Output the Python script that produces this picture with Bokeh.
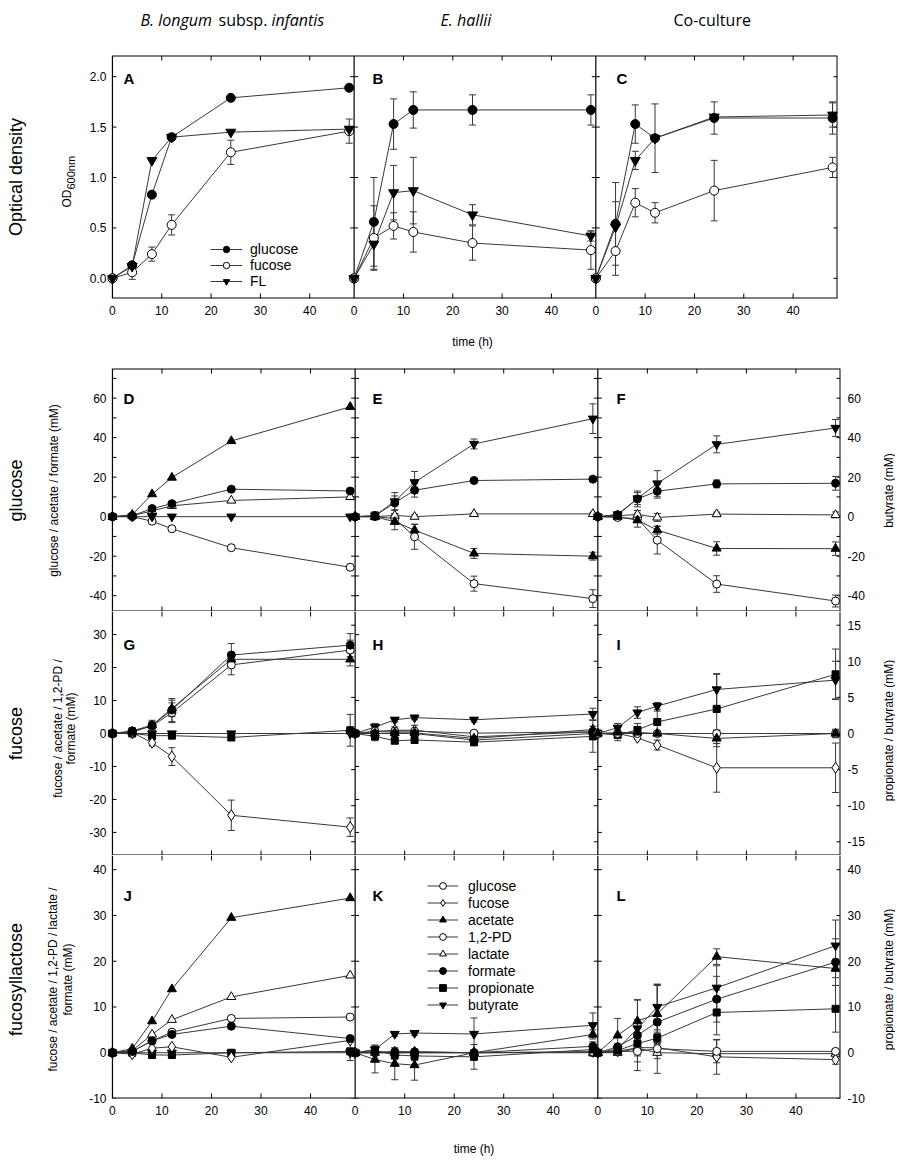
import math
from bokeh.plotting import figure
from bokeh.models import (Range1d, LinearAxis, FixedTicker, Label, Legend, LegendItem,
                          CustomJSTickFormatter)
from bokeh.layouts import column, row
from bokeh.embed import file_html
from bokeh.resources import INLINE

# ------------------------------------------------------------------ data
TIME_H = [0, 4, 8, 12, 24, 48]
PANEL_H = 49
X_TICK_LABELS = [0, 10, 20, 30, 40]
NO_SD = [0, 0, 0, 0, 0, 0]

OD_TICKS = [0.0, 0.5, 1.0, 1.5, 2.0]
GLC_TICK_LABELS = [-40, -20, 0, 20, 40, 60]
GLC_TICK_MARKS = [-40, -30, -20, -10, 0, 10, 20, 30, 40, 50, 60, 70]
FUC_TICKS_LEFT = [-30, -20, -10, 0, 10, 20, 30]
FUC_TICKS_RIGHT = [-15, -10, -5, 0, 5, 10, 15]
FL_TICKS = [-10, 0, 10, 20, 30, 40]

# Optical density (OD600)
A_glucose = [0.00, 0.13, 0.83, 1.40, 1.79, 1.89]
A_fucose = [0.00, 0.06, 0.24, 0.53, 1.25, 1.46]
A_fucose_sd = [0, 0.07, 0.07, 0.10, 0.12, 0.12]
A_FL = [0.00, 0.12, 1.17, 1.40, 1.45, 1.48]
B_glucose = [0.00, 0.56, 1.53, 1.67, 1.67, 1.67]
B_glucose_sd = [0, 0.44, 0.25, 0.18, 0.15, 0.15]
B_fucose = [0.00, 0.40, 0.52, 0.46, 0.35, 0.28]
B_fucose_sd = [0, 0.32, 0.13, 0.20, 0.17, 0.19]
B_FL = [0.00, 0.34, 0.85, 0.87, 0.63, 0.42]
B_FL_sd = [0, 0.25, 0.27, 0.33, 0.10, 0.05]
C_glucose = [0.00, 0.54, 1.53, 1.39, 1.59, 1.59]
C_glucose_sd = [0, 0.41, 0.19, 0.34, 0.16, 0.16]
C_fucose = [0.00, 0.27, 0.75, 0.65, 0.87, 1.10]
C_fucose_sd = [0, 0.24, 0.14, 0.10, 0.30, 0.10]
C_FL = [0.00, 0.51, 1.17, 1.39, 1.60, 1.62]
C_FL_sd = [0, 0.25, 0.09, 0, 0, 0.12]

# glucose medium (mM)
D_glucose = [0, 0, -2.3, -6.1, -15.7, -25.6]
D_acetate = [0, 1.0, 11.4, 19.8, 38.3, 55.6]
D_lactate = [0, 0.5, 2.9, 5.5, 8.2, 10.0]
D_formate = [0, 0.5, 4.1, 6.6, 13.9, 13.0]
D_butyrate = [0, 0, 0, 0, 0, 0]
E_glucose = [0, 0, -1.0, -10.2, -33.9, -41.5]
E_glucose_sd = [0, 1.5, 2.0, 6.3, 3.8, 4.5]
E_acetate = [0, 0, -2.6, -6.8, -18.6, -20.0]
E_acetate_sd = [0, 1.0, 4.0, 3.0, 2.5, 2.0]
E_lactate = [0, 0, 0.6, 0.0, 1.4, 1.4]
E_lactate_sd = [0, 0.5, 1.0, 1.0, 0.5, 0.8]
E_formate = [0, 0.5, 7.0, 13.4, 18.3, 19.0]
E_formate_sd = [0, 1.5, 3.5, 3.5, 0.5, 0.5]
E_butyrate = [0, 0.5, 7.7, 17.4, 36.8, 49.6]
E_butyrate_sd = [0, 2.0, 4.5, 5.5, 2.5, 7.5]
F_glucose = [0, -0.4, -1.0, -11.9, -34.1, -42.7]
F_glucose_sd = [0, 0.5, 1.0, 7.0, 4.2, 3.0]
F_acetate = [0, 0, -1.8, -6.8, -16.1, -16.2]
F_acetate_sd = [0, 0.5, 3.5, 2.0, 3.4, 3.4]
F_lactate = [0, 0.5, 1.1, -0.4, 1.3, 0.9]
F_lactate_sd = [0, 0.5, 2.0, 2.0, 1.0, 1.5]
F_formate = [0, 1.0, 9.0, 12.9, 16.6, 16.9]
F_formate_sd = [0, 1.0, 4.0, 3.5, 2.0, 3.5]
F_butyrate = [0, 1.1, 9.2, 16.8, 36.6, 44.9]
F_butyrate_sd = [0, 1.0, 3.0, 6.5, 4.3, 4.3]

# fucose medium (mM); propionate / butyrate on right axis
G_fucose = [0, 0.3, -2.8, -7.0, -24.8, -28.4]
G_fucose_sd = [0, 0.5, 1.0, 2.7, 4.6, 2.8]
G_acetate = [0, 0.5, 2.5, 7.6, 22.5, 22.5]
G_acetate_sd = [0, 1.0, 1.0, 2.5, 2.0, 2.0]
G_pd = [0, 0.5, 2.3, 6.3, 20.8, 25.3]
G_pd_sd = [0, 1.0, 1.0, 3.0, 3.0, 3.0]
G_formate = [0, 0.8, 2.5, 7.1, 23.8, 26.8]
G_formate_sd = [0, 1.0, 1.5, 3.5, 3.5, 3.5]
G_propionate = [0, 0, -0.3, -0.3, -0.55, 0.45]
G_propionate_sd = [0, 0, 0.3, 0.3, 0.4, 2.2]
G_butyrate = [0, 0, 0, 0, 0, 0]
H_fucose = [0, 0.5, 1.0, 1.0, -1.0, 0.5]
H_fucose_sd = [0, 0.5, 1.0, 1.5, 1.0, 1.0]
H_acetate = [0, 0, 0.2, 0.2, -1.5, 1.2]
H_acetate_sd = [0, 0.5, 0.5, 0.5, 1.0, 1.0]
H_pd = [0, 0.7, 0.7, 0.7, 0.1, 0.5]
H_pd_sd = [0, 0.5, 0.5, 0.5, 0.5, 0.5]
H_formate = [0, 0, 0, 0, -2.0, 0]
H_propionate = [0, -0.4, -1.0, -0.9, -1.2, -0.4]
H_propionate_sd = [0, 0.6, 0.3, 0.3, 0.5, 2.2]
H_butyrate = [0, 0.9, 1.9, 2.2, 1.9, 2.7]
H_butyrate_sd = [0, 0.5, 0.3, 0.3, 0.3, 0.8]
I_fucose = [0, 0, -1.3, -3.5, -10.4, -10.4]
I_fucose_sd = [0, 0.3, 0.5, 1.5, 7.4, 7.5]
I_acetate = [0, 0.3, 0.3, 0, -1.5, 0]
I_acetate_sd = [0, 0.5, 0.5, 0.5, 2.5, 1.0]
I_pd = [0, 0, 0, 0, 0, 0]
I_pd_sd = [0, 0.5, 0.5, 0.5, 1.0, 1.3]
I_propionate = [0, -0.2, 0.5, 1.6, 3.4, 8.2]
I_propionate_sd = [0, 0.8, 0.9, 1.5, 4.8, 3.5]
I_butyrate = [0, 0.8, 2.9, 3.8, 6.1, 7.4]
I_butyrate_sd = [0, 0.6, 0.8, 0.5, 2.2, 2.6]

# fucosyllactose medium (mM)
J_fucose = [0, -0.3, 1.0, 1.3, -1.0, 2.7]
J_acetate = [0, 0.9, 6.9, 13.9, 29.5, 33.8]
J_pd = [0, 0.3, 2.6, 4.5, 7.5, 7.8]
J_lactate = [0, 0.5, 4.0, 7.2, 12.2, 16.9]
J_formate = [0, 0.3, 2.6, 4.0, 5.8, 3.1]
J_propionate = [0, 0, -0.5, -0.5, 0, 0.3]
J_propionate_sd = [0, 0, 0, 0, 0, 2.0]
J_butyrate = [0, 0, 0, 0, 0, 0]
K_fucose = [0, 0, 0.2, 0.2, 0, 0.2]
K_acetate = [0, -1.5, -2.4, -2.7, 0, 4.0]
K_acetate_sd = [0, 2.9, 3.5, 3.3, 0.5, 1.0]
K_pd = [0, 0, 0, 0, 0, 0.2]
K_pd_sd = [0, 0, 0, 0, 0, 1.0]
K_lactate = [0, 0, 0, 0, 0, 0]
K_formate = [0, 0.2, 0.2, 0.2, 0, 1.4]
K_formate_sd = [0, 0, 0, 0, 0, 1.0]
K_propionate = [0, 0.5, -0.5, -0.7, -0.9, 0.7]
K_propionate_sd = [0, 1.0, 1.0, 1.0, 2.7, 1.0]
K_butyrate = [0, 0.7, 4.1, 4.3, 4.1, 6.0]
K_butyrate_sd = [0, 1.0, 0.5, 0.5, 3.5, 2.7]
L_fucose = [0, 0.3, 1.1, 1.1, -0.9, -1.5]
L_fucose_sd = [0, 0.3, 1.0, 1.0, 3.8, 1.0]
L_acetate = [0, 3.8, 6.9, 8.5, 21.0, 18.4]
L_acetate_sd = [0, 3.7, 4.7, 6.4, 1.7, 2.0]
L_pd = [0, 0.3, 0.3, 0.9, 0.3, 0.3]
L_pd_sd = [0, 0.3, 1.0, 1.0, 2.5, 0.5]
L_lactate = [0, 0, 1.0, 0, -0.2, -0.2]
L_lactate_sd = [0, 0.3, 3.0, 4.5, 1.0, 1.0]
L_formate = [0, 1.3, 3.8, 6.7, 11.7, 19.8]
L_formate_sd = [0, 0.5, 7.7, 8.0, 5.0, 5.1]
L_propionate = [0, 0.5, 2.0, 3.2, 8.8, 9.6]
L_propionate_sd = [0, 0.5, 1.0, 1.0, 4.9, 5.1]
L_butyrate = [0, 0.8, 5.3, 10.0, 14.2, 23.4]
L_butyrate_sd = [0, 0.5, 2.0, 5.0, 4.8, 5.6]

OD_LEGEND = ["glucose", "fucose", "FL"]
MET_LEGEND = ["glucose", "fucose", "acetate", "1,2-PD", "lactate", "formate", "propionate", "butyrate"]
ROW_TITLES = ["Optical density", "glucose", "fucose", "fucosyllactose"]
PANEL_LETTERS = [["A", "B", "C"], ["D", "E", "F"], ["G", "H", "I"], ["J", "K", "L"]]

ROW1_PANELS = [
    [("glucose", A_glucose, NO_SD), ("fucose", A_fucose, A_fucose_sd), ("FL", A_FL, NO_SD)],
    [("glucose", B_glucose, B_glucose_sd), ("fucose", B_fucose, B_fucose_sd), ("FL", B_FL, B_FL_sd)],
    [("glucose", C_glucose, C_glucose_sd), ("fucose", C_fucose, C_fucose_sd), ("FL", C_FL, C_FL_sd)],
]
ROW2_PANELS = [
    [("glucose", D_glucose, NO_SD), ("lactate", D_lactate, NO_SD), ("formate", D_formate, NO_SD),
     ("acetate", D_acetate, NO_SD), ("butyrate", D_butyrate, NO_SD)],
    [("glucose", E_glucose, E_glucose_sd), ("lactate", E_lactate, E_lactate_sd), ("formate", E_formate, E_formate_sd),
     ("acetate", E_acetate, E_acetate_sd), ("butyrate", E_butyrate, E_butyrate_sd)],
    [("glucose", F_glucose, F_glucose_sd), ("lactate", F_lactate, F_lactate_sd), ("formate", F_formate, F_formate_sd),
     ("acetate", F_acetate, F_acetate_sd), ("butyrate", F_butyrate, F_butyrate_sd)],
]
ROW3_PANELS = [
    [("propionate", G_propionate, G_propionate_sd), ("butyrate", G_butyrate, NO_SD), ("fucose", G_fucose, G_fucose_sd),
     ("1,2-PD", G_pd, G_pd_sd), ("acetate", G_acetate, G_acetate_sd), ("formate", G_formate, G_formate_sd)],
    [("propionate", H_propionate, H_propionate_sd), ("butyrate", H_butyrate, H_butyrate_sd), ("fucose", H_fucose, H_fucose_sd),
     ("1,2-PD", H_pd, H_pd_sd), ("acetate", H_acetate, H_acetate_sd), ("formate", H_formate, NO_SD)],
    [("propionate", I_propionate, I_propionate_sd), ("butyrate", I_butyrate, I_butyrate_sd), ("fucose", I_fucose, I_fucose_sd),
     ("1,2-PD", I_pd, I_pd_sd), ("acetate", I_acetate, I_acetate_sd)],
]
ROW4_PANELS = [
    [("propionate", J_propionate, J_propionate_sd), ("butyrate", J_butyrate, NO_SD), ("fucose", J_fucose, NO_SD),
     ("1,2-PD", J_pd, NO_SD), ("lactate", J_lactate, NO_SD), ("formate", J_formate, NO_SD), ("acetate", J_acetate, NO_SD)],
    [("lactate", K_lactate, NO_SD), ("fucose", K_fucose, NO_SD), ("1,2-PD", K_pd, K_pd_sd), ("propionate", K_propionate, K_propionate_sd),
     ("formate", K_formate, K_formate_sd), ("acetate", K_acetate, K_acetate_sd), ("butyrate", K_butyrate, K_butyrate_sd)],
    [("lactate", L_lactate, L_lactate_sd), ("fucose", L_fucose, L_fucose_sd), ("1,2-PD", L_pd, L_pd_sd),
     ("propionate", L_propionate, L_propionate_sd), ("formate", L_formate, L_formate_sd),
     ("acetate", L_acetate, L_acetate_sd), ("butyrate", L_butyrate, L_butyrate_sd)],
]

# ------------------------------------------------------------------ style / layout
SANS = "Liberation Sans"
TITLE_FONT = "Open Sans"
LINE_C = "#383838"
BAR_C = "#383838"
OD_STYLE = {"glucose": ("circle", "black", 9), "fucose": ("circle", "white", 9),
            "FL": ("inverted_triangle", "black", 10)}
MET_STYLE = {"glucose": ("circle", "white", 8), "fucose": ("diamond", "white", 11),
             "acetate": ("triangle", "black", 9), "1,2-PD": ("circle", "white", 8),
             "lactate": ("triangle", "white", 9), "formate": ("circle", "black", 8),
             "propionate": ("square", "black", 7), "butyrate": ("inverted_triangle", "black", 9)}

TOTAL_W = 895
TITLE_H = 55
LEFT_W = 85          # left text strip (image x 0..85)
RIGHT_W = 25         # right text strip
AX_L = 22            # left border of the plot (tick labels)
X_RANGE = (-1, 3 * PANEL_H)
ROWS = [
    dict(top=55, tb=0, bb=70, rb=58, fw=730, fh=243, y=(-0.2, 2.21)),
    dict(top=368, tb=0, bb=0, rb=30, fw=733, fh=243, y=(-48, 75)),
    dict(top=611, tb=0, bb=0, rb=30, fw=733, fh=244, y=(-37, 37), r=(-16.9, 16.9)),
    dict(top=855, tb=0, bb=58, rb=30, fw=733, fh=243, y=(-10, 43.1)),
]
for g in ROWS:
    g["h"] = g["tb"] + g["fh"] + g["bb"]


def to_data(g, ix, iy):
    """picture pixel -> data coordinates of a row's main figure."""
    pxu = g["fw"] / (X_RANGE[1] - X_RANGE[0])
    y0, y1 = g["y"]
    cx = ix - LEFT_W
    cy = iy - g["top"]
    xd = X_RANGE[0] + (cx - AX_L) / pxu
    yd = y1 - (cy - g["tb"]) * (y1 - y0) / g["fh"]
    return xd, yd


def bare_fig(w, h, x_range, y_range, tb=0, bb=0):
    f = figure(x_range=x_range, y_range=y_range, width=w, height=h,
               min_border_left=0, min_border_right=0, min_border_top=tb, min_border_bottom=bb,
               toolbar_location=None, output_backend="svg", title=None,
               x_axis_location=None, y_axis_location=None)
    f.outline_line_color = None
    f.grid.visible = False
    return f


def strip(g, main, w):
    return bare_fig(w, g["h"], Range1d(0, w), main.y_range, g["tb"], g["bb"])


def strip_text(f, g, x0, ix, iy, text, size, align="center"):
    _, yd = to_data(g, ix, iy)
    f.add_layout(Label(x=ix - x0, y=yd, text=text, angle=math.pi / 2, text_align=align,
                       text_baseline="middle", text_font=SANS, text_font_size=f"{size}px",
                       text_color="black"))


def make_fig(g):
    p = figure(x_range=Range1d(*X_RANGE), y_range=Range1d(*g["y"]),
               frame_width=g["fw"], frame_height=g["fh"],
               min_border_left=AX_L, min_border_right=g["rb"],
               min_border_top=g["tb"], min_border_bottom=g["bb"],
               toolbar_location=None, output_backend="svg", title=None,
               x_axis_location=None, y_axis_location=None)
    p.outline_line_color = None
    p.grid.visible = False
    if "r" in g:
        p.extra_y_ranges = {"r": Range1d(*g["r"])}
    return p


def y_axis(p, side, ticks, standoff, code="return String(tick)", range_name="default"):
    ax = LinearAxis(y_range_name=range_name, ticker=FixedTicker(ticks=ticks),
                    formatter=CustomJSTickFormatter(code=code),
                    axis_line_color=None, major_tick_in=0, major_tick_out=0,
                    minor_tick_in=0, minor_tick_out=0, major_label_standoff=standoff,
                    major_label_text_font=SANS, major_label_text_font_size="12px",
                    major_label_text_color="black")
    p.add_layout(ax, side)


def x_axis(p, label_standoff):
    ticks = [t + PANEL_H * i for i in range(3) for t in X_TICK_LABELS]
    ax = LinearAxis(ticker=FixedTicker(ticks=ticks),
                    formatter=CustomJSTickFormatter(args=dict(w=PANEL_H),
                                                    code="return String(Math.round(tick) % w)"),
                    axis_line_color=None, major_tick_in=0, major_tick_out=0,
                    minor_tick_in=0, minor_tick_out=0, major_label_standoff=7,
                    major_label_text_font=SANS, major_label_text_font_size="12px",
                    major_label_text_color="black",
                    axis_label="time (h)", axis_label_standoff=label_standoff,
                    axis_label_text_font=SANS, axis_label_text_font_size="12px",
                    axis_label_text_font_style="normal", axis_label_text_color="black")
    p.add_layout(ax, "below")


def frame_lines(p, g, top_line):
    y0, y1 = g["y"]
    inner = [PANEL_H * i for i in range(3)]
    end = 3 * PANEL_H
    p.segment(x0=inner, x1=inner, y0=[y0] * 3, y1=[y1] * 3, line_color="black", line_width=1.2)
    p.segment(x0=[end], x1=[end], y0=[y0], y1=[y1], line_color="black", line_width=2)
    p.segment(x0=[0], x1=[end], y0=[y0], y1=[y0], line_color="black", line_width=2)
    if top_line:
        p.segment(x0=[0], x1=[end], y0=[y1], y1=[y1], line_color="black", line_width=2)


def tick_marks(p, g, left_ticks, right_ticks, right_name="default"):
    y0, y1 = g["y"]
    xs = [t + PANEL_H * i for i in range(3) for t in X_TICK_LABELS if t > 0]
    kw = dict(length_units="screen", line_color="black", line_width=1)
    p.ray(x=xs, y=[y1] * len(xs), length=5, angle=-math.pi / 2, **kw)
    p.ray(x=xs, y=[y0] * len(xs), length=5, angle=math.pi / 2, **kw)
    lx = [PANEL_H * i for i in range(3) for _ in left_ticks]
    p.ray(x=lx, y=list(left_ticks) * 3, length=4, angle=0.0, **kw)
    rx = [PANEL_H * (i + 1) for i in range(3) for _ in right_ticks]
    p.ray(x=rx, y=list(right_ticks) * 3, length=4, angle=math.pi, y_range_name=right_name, **kw)


def draw_series(p, panels, styles, right_names=()):
    layers = []
    for i, series in enumerate(panels):
        for name, vals, sd in series:
            xs = [t + PANEL_H * i for t in TIME_H]
            layers.append((name, xs, vals, sd))
    for name, xs, vals, sd in layers:
        kw = {"y_range_name": "r"} if name in right_names else {}
        bx = [x for x, e in zip(xs, sd) if e > 0]
        if not bx:
            continue
        lo = [v - e for v, e in zip(vals, sd) if e > 0]
        hi = [v + e for v, e in zip(vals, sd) if e > 0]
        p.segment(x0=bx, x1=bx, y0=lo, y1=hi, line_color=BAR_C, line_width=1, **kw)
        p.scatter(x=bx + bx, y=lo + hi, marker="dash", size=7, line_color=BAR_C, line_width=1, **kw)
    for name, xs, vals, sd in layers:
        kw = {"y_range_name": "r"} if name in right_names else {}
        p.line(x=xs, y=vals, line_color=LINE_C, line_width=1, **kw)
    for name, xs, vals, sd in layers:
        kw = {"y_range_name": "r"} if name in right_names else {}
        m, fill, size = styles[name]
        p.scatter(x=xs, y=vals, marker=m, size=size, fill_color=fill, line_color="black",
                  line_width=1, **kw)


def proxy(p, style):
    # invisible (NaN) renderers that only serve as legend samples
    m, fill, size = style
    ln = p.line(x=[math.nan], y=[math.nan], line_color=LINE_C, line_width=1)
    sc = p.scatter(x=[math.nan], y=[math.nan], marker=m, size=size, fill_color=fill,
                   line_color="black", line_width=1)
    return [ln, sc]


def add_legend(p, names, styles, loc, gw, gh, standoff):
    items = [LegendItem(label=n, renderers=proxy(p, styles[n])) for n in names]
    leg = Legend(items=items, location=loc, orientation="vertical", border_line_color=None,
                 background_fill_alpha=0, padding=0, margin=0, spacing=0, glyph_width=gw,
                 glyph_height=gh, label_height=gh, label_standoff=standoff,
                 label_text_font=SANS, label_text_font_size="14px", label_text_color="black")
    p.add_layout(leg)


def letters(p, g, row_letters, base_y):
    for lx, letter in zip([123, 372, 616], row_letters):
        xd, yd = to_data(g, lx, base_y)
        p.add_layout(Label(x=xd, y=yd, text=letter, text_align="left", text_baseline="alphabetic",
                           text_font=SANS, text_font_size="15px", text_font_style="bold",
                           text_color="black"))


# ------------------------------------------------------------------ column titles
tf = bare_fig(TOTAL_W, TITLE_H, Range1d(0, TOTAL_W), Range1d(0, TITLE_H))


def title_text(ix, text, style):
    tf.add_layout(Label(x=ix, y=TITLE_H - 19, text=text, text_align="left",
                        text_baseline="alphabetic", text_font=TITLE_FONT, text_font_size="16px",
                        text_font_style=style, text_color="black"))


title_text(140, "B. longum", "italic")
title_text(218, "subsp.", "normal")
title_text(271, "infantis", "italic")
title_text(440, "E. hallii", "italic")
title_text(673, "Co-culture", "normal")

# ------------------------------------------------------------------ row 1
g = ROWS[0]
p1 = make_fig(g)
frame_lines(p1, g, True)
tick_marks(p1, g, OD_TICKS, OD_TICKS)
y_axis(p1, "left", OD_TICKS, 1, code="return tick.toFixed(1)")
x_axis(p1, 17)
draw_series(p1, ROW1_PANELS, OD_STYLE)
add_legend(p1, OD_LEGEND, OD_STYLE, (103, 9), 32, 16, 8)
letters(p1, g, PANEL_LETTERS[0], 78)
l1 = strip(g, p1, LEFT_W)
strip_text(l1, g, 0, 15, 176.5, ROW_TITLES[0], 18)
strip_text(l1, g, 0, 66, 207, "OD", 12, align="left")
strip_text(l1, g, 0, 70, 189, "600nm", 11, align="left")
row1 = row(l1, p1, spacing=0)

# ------------------------------------------------------------------ row 2
g = ROWS[1]
p2 = make_fig(g)
frame_lines(p2, g, True)
tick_marks(p2, g, GLC_TICK_MARKS, GLC_TICK_MARKS)
y_axis(p2, "left", GLC_TICK_LABELS, 1)
y_axis(p2, "right", GLC_TICK_LABELS, 7)
draw_series(p2, ROW2_PANELS, MET_STYLE)
letters(p2, g, PANEL_LETTERS[1], 397.5)
l2 = strip(g, p2, LEFT_W)
strip_text(l2, g, 0, 15, 490, ROW_TITLES[1], 18)
strip_text(l2, g, 0, 53, 490, "glucose / acetate / formate (mM)", 12)
r2 = strip(g, p2, RIGHT_W)
strip_text(r2, g, TOTAL_W - RIGHT_W, 888, 490, "butyrate (mM)", 12)
row2 = row(l2, p2, r2, spacing=0)

# ------------------------------------------------------------------ row 3
g = ROWS[2]
p3 = make_fig(g)
frame_lines(p3, g, False)
tick_marks(p3, g, FUC_TICKS_LEFT, FUC_TICKS_RIGHT, "r")
y_axis(p3, "left", FUC_TICKS_LEFT, 1)
y_axis(p3, "right", FUC_TICKS_RIGHT, 7, range_name="r")
draw_series(p3, ROW3_PANELS, MET_STYLE, right_names=("propionate", "butyrate"))
letters(p3, g, PANEL_LETTERS[2], 643.5)
l3 = strip(g, p3, LEFT_W)
strip_text(l3, g, 0, 15, 733, ROW_TITLES[2], 18)
strip_text(l3, g, 0, 57, 728, "fucose / acetate / 1,2-PD /", 12)
strip_text(l3, g, 0, 70, 728, "formate (mM)", 12)
r3 = strip(g, p3, RIGHT_W)
strip_text(r3, g, TOTAL_W - RIGHT_W, 888, 730, "propionate / butyrate (mM)", 12)
row3 = row(l3, p3, r3, spacing=0)

# ------------------------------------------------------------------ row 4
g = ROWS[3]
p4 = make_fig(g)
frame_lines(p4, g, False)
tick_marks(p4, g, FL_TICKS, FL_TICKS)
y_axis(p4, "left", FL_TICKS, 1)
y_axis(p4, "right", FL_TICKS, 7)
x_axis(p4, 24)
draw_series(p4, ROW4_PANELS, MET_STYLE)
add_legend(p4, MET_LEGEND, MET_STYLE, (320, 85), 31, 17, 10)
letters(p4, g, PANEL_LETTERS[3], 894.5)
l4 = strip(g, p4, LEFT_W)
strip_text(l4, g, 0, 15, 980, ROW_TITLES[3], 18)
strip_text(l4, g, 0, 52, 980, "fucose / acetate / 1,2-PD / lactate /", 12)
strip_text(l4, g, 0, 67, 980, "formate (mM)", 12)
r4 = strip(g, p4, RIGHT_W)
strip_text(r4, g, TOTAL_W - RIGHT_W, 888, 980, "propionate / butyrate (mM)", 12)
row4 = row(l4, p4, r4, spacing=0)

layout = column(tf, row1, row2, row3, row4, spacing=0)
open("out.html", "w").write(file_html(layout, INLINE))
